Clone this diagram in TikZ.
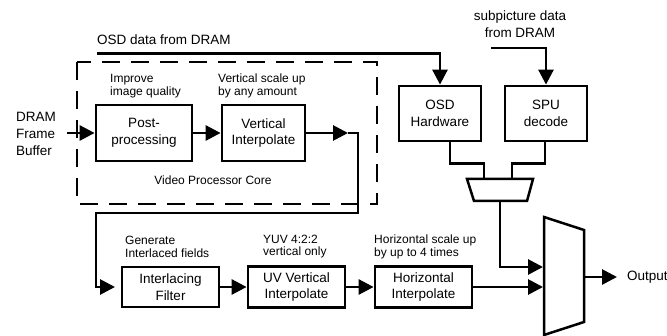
\documentclass[tikz,border=0pt]{standalone}
\usepackage{fontspec}
\setmainfont{Liberation Sans}
\usetikzlibrary{arrows.meta}
\begin{document}
\begin{tikzpicture}[x=1pt,y=-1pt,
  box/.style={draw,line width=2.8pt,align=center,inner sep=0pt,font=\fontsize{13.5}{16.5}\selectfont},
  captxt/.style={align=left,anchor=west,inner sep=0pt,font=\fontsize{12}{12.5}\selectfont},
  conn/.style={line width=2.8pt},
  arr/.style={conn,-{Triangle[length=15pt,width=15pt]}},
  lbl/.style={inner sep=0pt,font=\fontsize{13.5}{17}\selectfont}]
\useasboundingbox (0,0) rectangle (667,336);
% dashed core frame
\draw[line width=2pt,dash pattern=on 18pt off 11pt] (77,62) rectangle (377,204);
% boxes
\node[box,minimum width=96pt,minimum height=56pt] (post) at (144,133) {Post-\\processing};
\node[box,minimum width=83pt,minimum height=56pt] (vi) at (263.5,133) {Vertical\\Interpolate};
\node[box,minimum width=82pt,minimum height=55pt] (osd) at (440,113.5) {OSD\\Hardware};
\node[box,minimum width=82pt,minimum height=55pt] (spu) at (546,113.5) {SPU\\decode};
\node[box,minimum width=97pt,minimum height=40pt] (if) at (170.5,287) {Interlacing\\Filter};
\node[box,minimum width=97pt,minimum height=41pt] (uv) at (296.5,287) {UV Vertical\\Interpolate};
\node[box,minimum width=97pt,minimum height=41pt] (hi) at (423.5,287) {Horizontal\\Interpolate};
% muxes
\coordinate (m1a) at (467,179); \coordinate (m1b) at (533,179);
\coordinate (m1c) at (527,201); \coordinate (m1d) at (474,201);
\draw[line width=2.5pt,line join=miter] (m1a) -- (m1b) -- (m1c) -- (m1d) -- cycle;
\coordinate (m2a) at (544,217); \coordinate (m2b) at (584,230);
\coordinate (m2c) at (584,322); \coordinate (m2d) at (544,335);
\draw[line width=2.5pt,line join=miter] (m2a) -- (m2b) -- (m2c) -- (m2d) -- cycle;
% labels
\node[lbl,anchor=west] (osdlbl) at (97,40) {OSD data from DRAM};
\node[lbl,align=center] (sublbl) at (520,24.5) {subpicture data\\from DRAM};
\node[lbl,align=left,anchor=west] (dram) at (16,133.5) {DRAM\\Frame\\Buffer};
\node[captxt] (c1) at (110,86) {Improve\\image quality};
\node[captxt] (c2) at (218,86) {Vertical scale up\\by any amount};
\node[captxt,anchor=center] (c3) at (213,180) {Video Processor Core};
\node[captxt] (c4) at (125,247) {Generate\\Interlaced fields};
\node[captxt] (c5) at (263,246.5) {YUV 4:2:2\\vertical only};
\node[captxt] (c6) at (374,247) {Horizontal scale up\\by up to 4 times};
\node[lbl,anchor=west] (out) at (627,277) {Output};
% coordinates
\coordinate (dramin) at (67,133);
\coordinate (vtip) at (348,133);
\coordinate (iftip) at (115,287);
\coordinate (osdsrc) at (97,53.5);
\coordinate (spusrc) at (491,48);
\coordinate (muxin1) at (543,267);
\coordinate (muxin2) at (543,287);
\coordinate (muxout) at (584,277);
\coordinate (outtip) at (617,277);
% connectors
\draw[arr] (dramin) -- (post.west);
\draw[arr] (post) -- (vi);
\draw[arr] (vi.east) -- (vtip);
\draw[arr,line join=miter] (vtip) -- (358,133) -- (358,213) -- (96,213) -- (96,287) -- (iftip);
\draw[arr] (if) -- (uv);
\draw[arr] (uv) -- (hi);
\draw[arr] (hi.east) -- (muxin2);
\draw[arr,line join=miter] (osdsrc) -| (osd.north);
\draw[arr,line join=miter] (spusrc) -| (spu.north);
\draw[conn,line join=miter] ([xshift=10pt]osd.south) -- ++(0,21) -| (484,179);
\draw[conn,line join=miter] ([xshift=-1pt]spu.south) -- ++(0,21) -| (512,179);
\draw[arr,line join=miter] (500,201) |- (muxin1);
\draw[arr] (muxout) -- (outtip);
\end{tikzpicture}
\end{document}
